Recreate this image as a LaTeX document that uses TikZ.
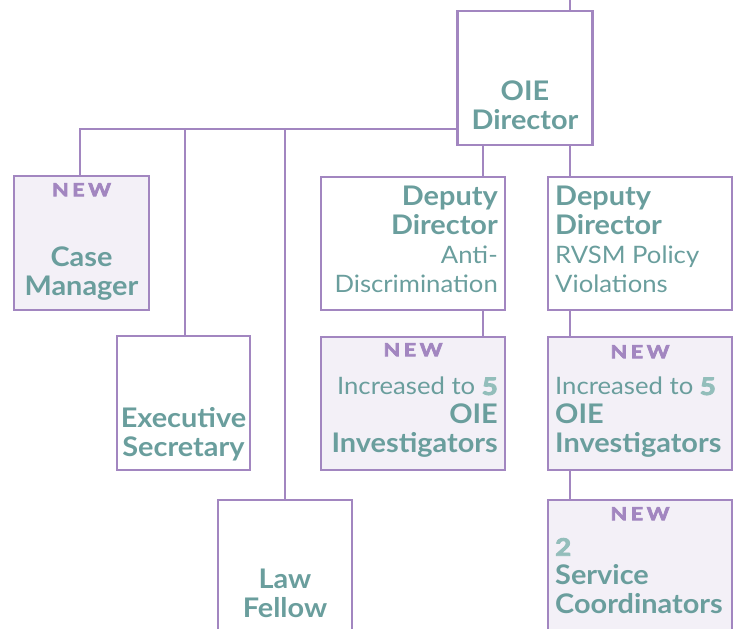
\documentclass[tikz,border=0pt]{standalone}
\usepackage{fontspec}
\setmainfont{Lato}[FakeStretch=1.07]
\newfontfamily\heavyfont{Lato}[FakeBold=4, FakeStretch=1.15]
\newfontfamily\tagfont{Lato}[FakeBold=4, FakeStretch=1.2, LetterSpace=20]
\definecolor{oieline}{HTML}{A286C0}
\definecolor{oieteal}{HTML}{6A9E9D}
\definecolor{oiefill}{HTML}{F3F0F7}
\definecolor{oielight}{HTML}{93BEBB}
\newcommand{\hd}{\bfseries\fontsize{27}{29}\selectfont}
\newcommand{\bignum}[1]{{\heavyfont\bfseries\color{oielight}#1}}
\tikzset{
  box/.style={draw=oieline, line width=2.4pt, inner sep=0pt, outer sep=0pt,
    anchor=north west, minimum width=#1},
  box/.default=135pt,
  newbox/.style={box=#1, fill=oiefill},
  newbox/.default=135pt,
  link/.style={draw=oieline, line width=2.4pt},
  label/.style={text=oieteal, inner sep=0pt, font=\fontsize{24}{29}\selectfont},
  heading/.style={label, font=\hd},
  tag/.style={text=oieline, inner sep=0pt, anchor=north,
    font=\tagfont\bfseries\fontsize{18}{20}\selectfont},
}
\begin{document}
\begin{tikzpicture}[x=1pt, y=-1pt]
\useasboundingbox (0,0) rectangle (737,629);

% boxes
\node[box, minimum height=134pt] (dir) at (457.5,11) {};
\node[newbox, minimum height=134pt] (case) at (14,176) {};
\node[box=133pt, minimum height=134pt] (exec) at (117,336) {};
\node[box=134pt, minimum height=160pt] (law) at (218,500) {};
\node[box=184pt, minimum height=133pt] (ad) at (321,177) {};
\node[box=184pt, minimum height=133pt] (rv) at (548,177) {};
\node[newbox=184pt, minimum height=133pt] (adi) at (321,337) {};
\node[newbox=184pt, minimum height=133pt] (rvi) at (548,337) {};
\node[newbox=184pt, minimum height=160pt] (svc) at (548,500) {};

% connectors
\coordinate (top) at (570,0);
\coordinate (bus) at (80,129);
\coordinate (b2) at (185,129);
\coordinate (b3) at (285,129);
\coordinate (d1) at (483,0);
\draw[link] (top) -- (top |- dir.north);
\draw[link] (dir.west |- bus) -- (bus) -- (bus |- case.north);
\draw[link] (b2) -- (b2 |- exec.north);
\draw[link] (b3) -- (b3 |- law.north);
\draw[link] (d1 |- dir.south) -- (d1 |- ad.north);
\draw[link] (top |- dir.south) -- (top |- rv.north);
\draw[link] (d1 |- ad.south) -- (d1 |- adi.north);
\draw[link] (top |- rv.south) -- (top |- rvi.north);
\draw[link] (top |- rvi.south) -- (top |- svc.north);

% texts
\node[heading, align=center, anchor=south]
  (dirt) at ([shift={(0,-15)}]dir.south) {OIE\\Director};

\node[tag] (caset) at ([shift={(0,7)}]case.north) {NEW};
\node[heading, align=center, anchor=south]
  (casel) at ([shift={(0,-9)}]case.south) {Case\\Manager};

\node[heading, align=center, anchor=south]
  (execl) at ([shift={(0,-9)}]exec.south) {Executive\\Secretary};

\node[heading, align=center, anchor=north]
  (lawl) at ([shift={(0,69)}]law.north) {Law\\Fellow};

\node[label, align=right, anchor=north east]
  (adl) at ([shift={(-7,9)}]ad.north east)
  {{\hd Deputy}\\{\hd Director}\\Anti-\\Discrimination};

\node[label, align=left, anchor=north west]
  (rvl) at ([shift={(7,9)}]rv.north west)
  {{\hd Deputy}\\{\hd Director}\\RVSM Policy\\Violations};

\node[tag] (adit) at ([shift={(0,6)}]adi.north) {NEW};
\node[label, align=right, anchor=north east]
  (adil) at ([shift={(-7,40)}]adi.north east)
  {Increased to \bignum{5}\\{\hd OIE}\\{\hd Investigators}};

\node[tag] (rvit) at ([shift={(0,8)}]rvi.north) {NEW};
\node[label, align=left, anchor=north west]
  (rvil) at ([shift={(7,40)}]rvi.north west)
  {Increased to \bignum{5}\\{\hd OIE}\\{\hd Investigators}};

\node[tag] (svct) at ([shift={(0,7)}]svc.north) {NEW};
\node[label, align=left, anchor=north west]
  (svcl) at ([shift={(7,38)}]svc.north west)
  {\bignum{2}\\{\hd Service}\\{\hd Coordinators}};
\end{tikzpicture}
\end{document}
